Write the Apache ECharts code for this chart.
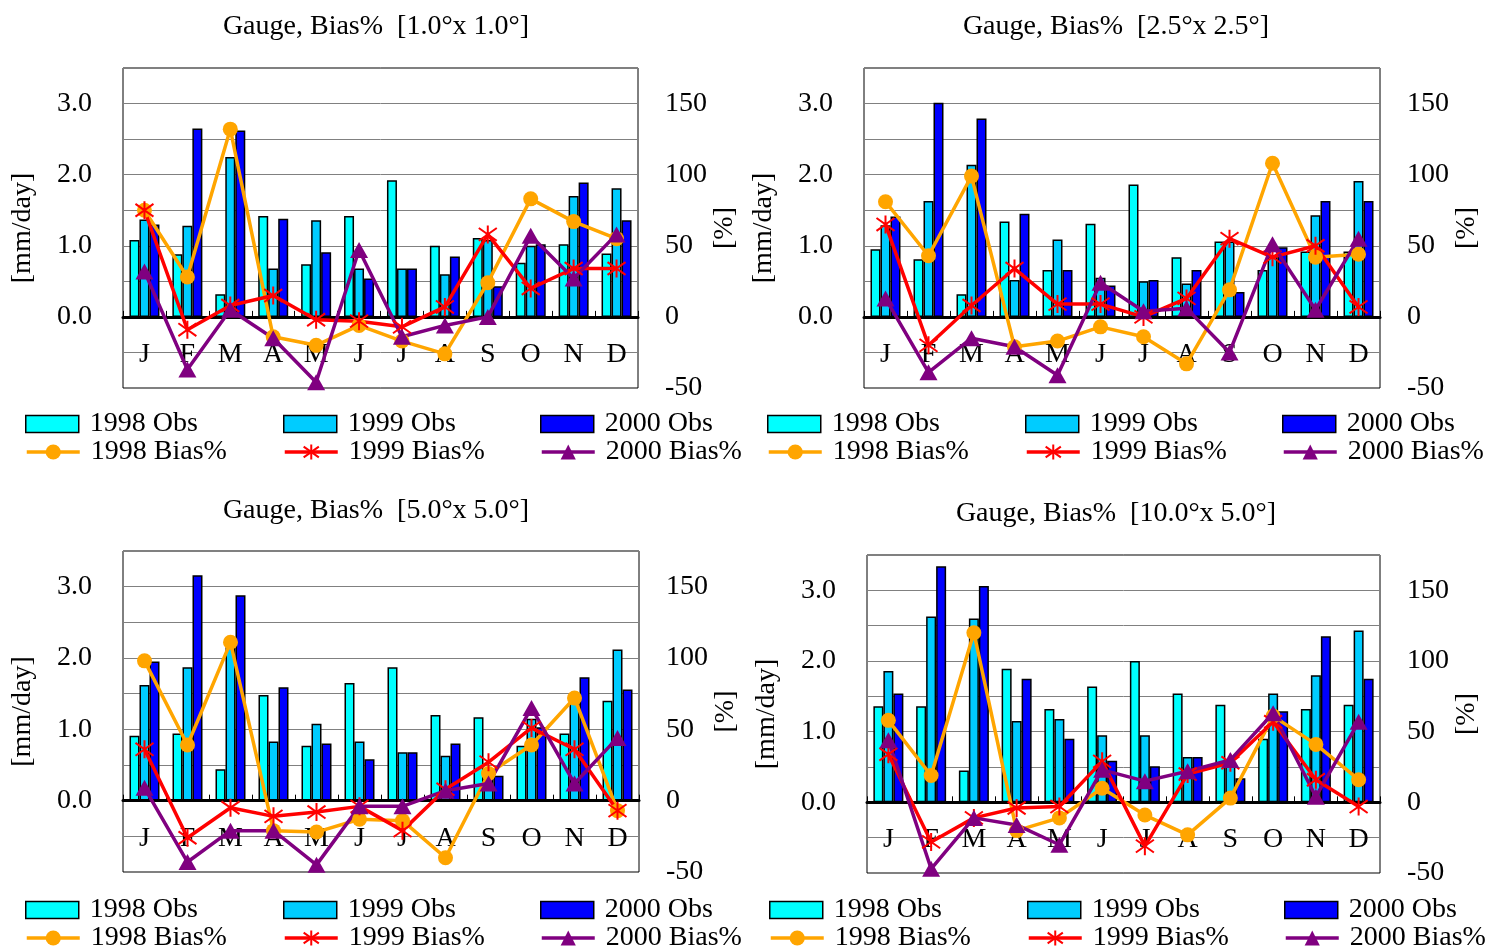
<!DOCTYPE html>
<html><head><meta charset="utf-8">
<script src="https://cdn.jsdelivr.net/npm/echarts@6/dist/echarts.min.js"></script>
<style>html,body{margin:0;padding:0;background:#fff}#c{width:1490px;height:951px}</style>
</head><body><div id="c"></div>
<script>
const months = ['J','F','M','A','M','J','J','A','S','O','N','D'];
const titles = ['Gauge, Bias%  [1.0°x 1.0°]','Gauge, Bias%  [2.5°x 2.5°]','Gauge, Bias%  [5.0°x 5.0°]','Gauge, Bias%  [10.0°x 5.0°]'];
const obsNames = ['1998 Obs','1999 Obs','2000 Obs'];
const biasNames = ['1998 Bias%','1999 Bias%','2000 Bias%'];
const leftTicks = ['0.0','1.0','2.0','3.0'];
const rightTicks = [-50, 0, 50, 100, 150];

// Panel 1: 1.0 x 1.0
const obs1998_p1 = [1.08, 0.88, 0.32, 1.42, 0.74, 1.42, 1.92, 1.00, 1.11, 0.76, 1.02, 0.89];
const obs1999_p1 = [1.37, 1.28, 2.25, 0.68, 1.36, 0.68, 0.68, 0.60, 1.08, 1.00, 1.70, 1.81];
const obs2000_p1 = [1.30, 2.65, 2.62, 1.38, 0.91, 0.54, 0.68, 0.85, 0.43, 1.02, 1.89, 1.36];
const bias1998_p1 = [75, 28, 132, -14, -20, -6, -17, -26, 24, 83, 67, 55];
const bias1999_p1 = [75, -9, 8, 15, -2, -3, -7, 7, 58, 20, 34, 34];
const bias2000_p1 = [32, -37, 5, -15, -46, 47, -14, -6, 0, 57, 27, 58];

// Panel 2: 2.5 x 2.5
const obs1998_p2 = [0.95, 0.81, 0.32, 1.34, 0.66, 1.31, 1.86, 0.84, 1.06, 0.66, 0.92, 0.92];
const obs1999_p2 = [1.29, 1.63, 2.14, 0.52, 1.09, 0.55, 0.50, 0.47, 1.06, 0.85, 1.43, 1.91];
const obs2000_p2 = [1.41, 3.01, 2.79, 1.45, 0.66, 0.44, 0.52, 0.66, 0.35, 0.98, 1.63, 1.63];
const bias1998_p2 = [81, 43, 99, -21, -17, -7, -14, -33, 19, 108, 42, 44];
const bias1999_p2 = [65, -20, 8, 34, 9, 9, 0, 13, 55, 42, 50, 7];
const bias2000_p2 = [13, -39, -15, -21, -41, 24, 4, 6, -25, 51, 5, 55];

// Panel 3: 5.0 x 5.0
const obs1998_p3 = [0.91, 0.94, 0.44, 1.48, 0.77, 1.65, 1.87, 1.20, 1.17, 0.77, 0.94, 1.40];
const obs1999_p3 = [1.62, 1.87, 2.15, 0.83, 1.08, 0.83, 0.68, 0.63, 0.40, 1.15, 1.38, 2.12];
const obs2000_p3 = [1.95, 3.16, 2.88, 1.59, 0.80, 0.58, 0.68, 0.80, 0.35, 1.03, 1.73, 1.56];
const bias1998_p3 = [98, 39, 111, -21, -22, -13, -14, -40, 19, 39, 72, -7];
const bias1999_p3 = [36, -26, -5, -11, -8, -4, -21, 8, 27, 51, 36, -7];
const bias2000_p3 = [9, -43, -21, -21, -45, -4, -4, 7, 12, 65, 12, 44];

// Panel 4: 10.0 x 5.0
const obs1998_p4 = [1.36, 1.36, 0.45, 1.89, 1.32, 1.64, 2.00, 1.54, 1.38, 0.90, 1.32, 1.38];
const obs1999_p4 = [1.86, 2.63, 2.60, 1.15, 1.18, 0.95, 0.95, 0.64, 0.55, 1.54, 1.80, 2.43];
const obs2000_p4 = [1.54, 3.34, 3.06, 1.75, 0.90, 0.59, 0.51, 0.64, 0.34, 1.29, 2.35, 1.75];
const bias1998_p4 = [58, 19, 120, -20, -11, 10, -9, -23, 3, 61, 41, 16];
const bias1999_p4 = [34, -28, -11, -4, -3, 29, -31, 20, 28, 57, 16, -3];
const bias2000_p4 = [44, -47, -11, -16, -30, 23, 15, 22, 30, 63, 4, 57];

const FONT = "'Liberation Serif','Times New Roman',serif";
const FS = 28;
const obsColors = ['#00FFFF', '#00CCFF', '#0000FF'];
const biasColors = ['#FFA500', '#FF0000', '#800080'];
const starPath = 'path://M10,0L10,20M2.9,2.9L17.1,17.1M2.9,17.1L17.1,2.9';
const biasSymbols = ['circle', starPath, 'triangle'];
const biasSizes = [15, 18, [18, 16]];

const panels = [
  {grid:{left:123, top:68, width:515, height:320}, title:[376, 27], lx:[25,283,540], ly:[424,452],
   obs:[obs1998_p1, obs1999_p1, obs2000_p1], bias:[bias1998_p1, bias1999_p1, bias2000_p1]},
  {grid:{left:864, top:68, width:516, height:320}, title:[1116, 27], lx:[767,1025,1282], ly:[424,452],
   obs:[obs1998_p2, obs1999_p2, obs2000_p2], bias:[bias1998_p2, bias1999_p2, bias2000_p2]},
  {grid:{left:123, top:551, width:516, height:321}, title:[376, 511], lx:[25,283,540], ly:[910,938],
   obs:[obs1998_p3, obs1999_p3, obs2000_p3], bias:[bias1998_p3, bias1999_p3, bias2000_p3]},
  {grid:{left:867, top:555, width:513, height:318}, title:[1116, 514], lx:[769,1027,1284], ly:[910,938],
   obs:[obs1998_p4, obs1999_p4, obs2000_p4], bias:[bias1998_p4, bias1999_p4, bias2000_p4]}
];

const option = {
  animation: false,
  backgroundColor: '#fff',
  grid: [], xAxis: [], yAxis: [], series: [], legend: [], graphic: []
};

panels.forEach((p, i) => {
  option.grid.push(Object.assign({show:true, borderColor:'#000', borderWidth:1, backgroundColor:'#fff',
    containLabel:false, outerBoundsMode:'none'}, p.grid));
  option.xAxis.push({
    type:'category', gridIndex:i, data:months, boundaryGap:true, z:4,
    axisLine:{show:true, onZero:true, onZeroAxisIndex:2*i, lineStyle:{color:'#000', width:3}},
    axisTick:{show:true, inside:true, length:6, interval:0, lineStyle:{color:'#000', width:1}},
    axisLabel:{interval:0, margin:-47, color:'#000', fontFamily:FONT, fontSize:FS},
    splitLine:{show:false}
  });
  option.yAxis.push({
    type:'value', gridIndex:i, position:'left', min:-1, max:3.5, interval:0.5,
    name:'[mm/day]', nameLocation:'middle', nameGap:86,
    nameTextStyle:{fontFamily:FONT, fontSize:FS, color:'#000'},
    axisLine:{show:false}, axisTick:{show:false},
    axisLabel:{margin:31, color:'#000', fontFamily:FONT, fontSize:FS,
      formatter: v => { const s = Number(v).toFixed(1); return leftTicks.indexOf(s) >= 0 ? s : ''; }},
    splitLine:{show:true, lineStyle:{color:'#808080', width:1}}
  });
  option.yAxis.push({
    type:'value', gridIndex:i, position:'right', min:-50, max:175, interval:25,
    name:'[%]', nameLocation:'middle', nameGap:73,
    nameTextStyle:{fontFamily:FONT, fontSize:FS, color:'#000'},
    axisLine:{show:false}, axisTick:{show:false},
    axisLabel:{margin:27, color:'#000', fontFamily:FONT, fontSize:FS,
      formatter: v => rightTicks.indexOf(Math.round(v)) >= 0 ? String(Math.round(v)) : ''},
    splitLine:{show:false}
  });
  for (let j = 0; j < 3; j++) {
    option.series.push({
      type:'bar', name:obsNames[j], xAxisIndex:i, yAxisIndex:2*i, data:p.obs[j],
      barWidth:10, barGap:'0%', z:2,
      itemStyle:{color:obsColors[j], borderColor:'#000', borderWidth:1.5},
      emphasis:{disabled:true}
    });
  }
  for (let j = 0; j < 3; j++) {
    option.series.push({
      type:'line', name:biasNames[j], xAxisIndex:i, yAxisIndex:2*i+1, data:p.bias[j],
      symbol:biasSymbols[j], symbolSize:biasSizes[j], showAllSymbol:true, z:5,
      lineStyle:{color:biasColors[j], width:3.5},
      itemStyle: j === 1 ? {color:biasColors[j], borderColor:biasColors[j], borderWidth:2}
                         : {color:biasColors[j], borderWidth:0},
      emphasis:{disabled:true}
    });
  }
  option.graphic.push({type:'text', x:p.title[0], y:p.title[1], z:10,
    style:{text:titles[i], font:`${FS}px ${FONT}`, fill:'#000', align:'center', verticalAlign:'middle'}});
  for (let j = 0; j < 3; j++) {
    option.legend.push({data:[obsNames[j]], left:p.lx[j], top:p.ly[0]-14, padding:0,
      itemWidth:53, itemHeight:17, selectedMode:false, icon:'rect',
      itemStyle:{borderColor:'#000', borderWidth:1.5},
      textStyle:{fontFamily:FONT, fontSize:FS, color:'#000', padding:[0,0,0,6]}});
    option.legend.push({data:[biasNames[j]], left:p.lx[j], top:p.ly[1]-14, padding:0,
      itemWidth:53, itemHeight:19, selectedMode:false,
      lineStyle:{width:3.5},
      itemStyle: j === 1 ? {borderWidth:2} : {},
      textStyle:{fontFamily:FONT, fontSize:FS, color:'#000', padding:[0,0,0,6]}});
  }
});

const chart = echarts.init(document.getElementById('c'), null, {renderer:'canvas'});
chart.setOption(option);
</script>
</body></html>
